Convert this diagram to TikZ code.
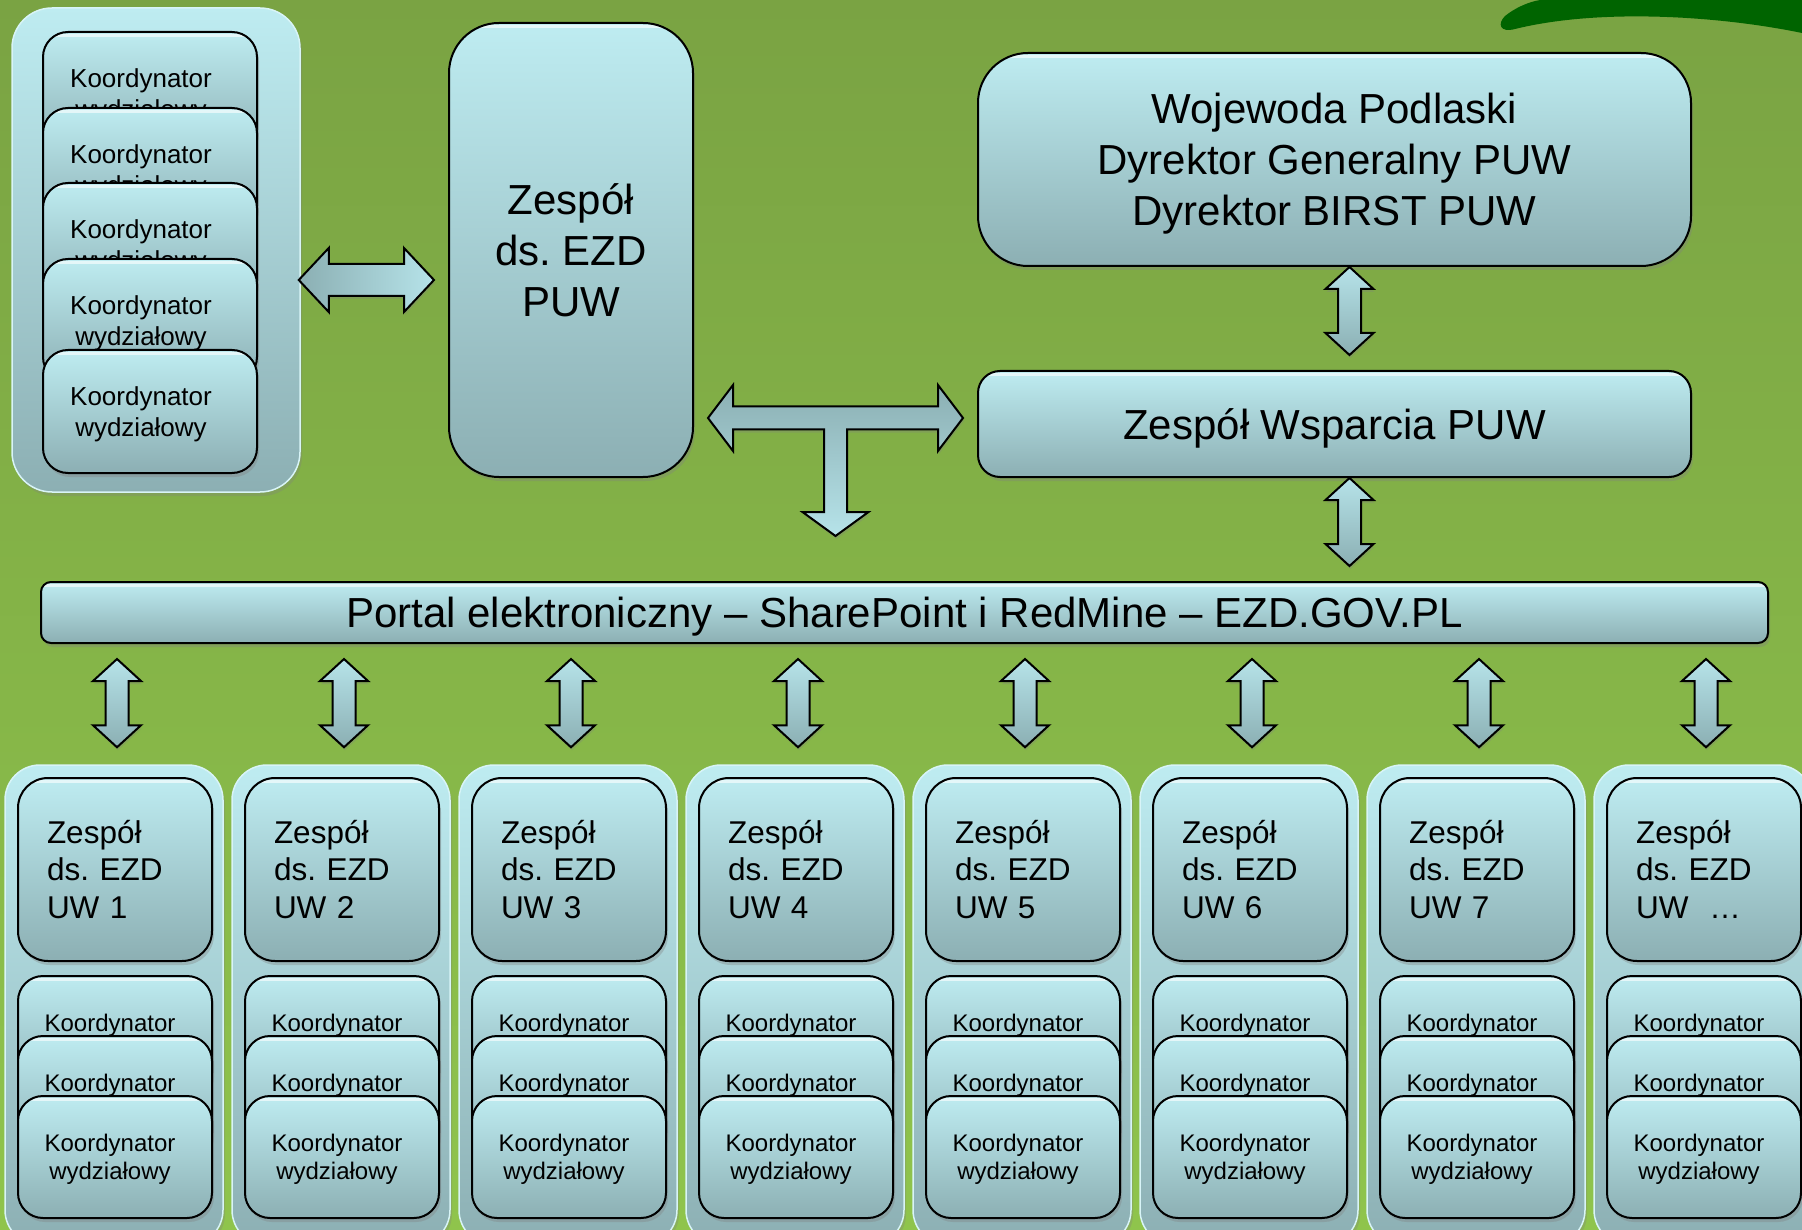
\documentclass[tikz,border=0pt]{standalone}
\usepackage{fontspec}
\setmainfont{Liberation Sans}
\frenchspacing
\usetikzlibrary{calc,shadows}

\definecolor{bgtop}{HTML}{7AA343}
\definecolor{bgbot}{HTML}{8FC44C}
\definecolor{boxtop}{HTML}{BEECF1}
\definecolor{boxbot}{HTML}{8CAFB3}
\definecolor{arrlight}{HTML}{B6E3E9}
\definecolor{arrdark}{HTML}{8BAFB3}
\definecolor{logogreen}{HTML}{006400}

\tikzset{
	gloss/.style={path picture={\draw[white, line width=3pt, opacity=.6]
		([yshift=-3.5pt]path picture bounding box.north west) -- ([yshift=-3.5pt]path picture bounding box.north east);}},
	box/.style={draw=black, line width=2pt, top color=boxtop, bottom color=boxbot, align=center, inner sep=0pt, gloss,
		drop shadow={shadow xshift=2pt, shadow yshift=-4pt, opacity=.35}},
	frame/.style={draw=boxtop!60!white, line width=1.5pt, top color=boxtop, bottom color=boxbot, rounded corners=40pt,
		drop shadow={shadow xshift=2pt, shadow yshift=-4pt, opacity=.3}},
	bigbox/.style={box, rounded corners=50pt, text depth=0pt, font=\fontsize{42}{51}\selectfont},
	kwbox/.style={box, rounded corners=25pt, minimum width=214pt, minimum height=123pt, text depth=0pt, font=\fontsize{26}{31}\selectfont},
	uwbox/.style={box, rounded corners=30pt, minimum width=194pt, minimum height=183pt, text width=136pt, align=left, font=\fontsize{31.5}{37.5}\selectfont},
	kbox/.style={box, rounded corners=25pt, minimum width=194pt, minimum height=122pt, text depth=0pt, font=\fontsize{24}{28.5}\selectfont},
	blockarrow/.style={draw=black, line width=2pt, line join=miter, top color=arrlight, bottom color=arrdark,
		drop shadow={shadow xshift=1pt, shadow yshift=-3pt, opacity=.3}}
}

% two-line label, pushed a little to the left
\newcommand{\kwtext}[1]{Koordynator\hspace*{#1}\\wydziałowy\hspace*{#1}}

% vertical double arrow: top tip, bottom tip
\newcommand{\vArrow}[2]{
	\path[blockarrow] let \p1=#1, \p2=#2 in
		(\x1,\y1) -- (\x1+24pt,\y1-22pt) -- (\x1+11.5pt,\y1-22pt) -- (\x1+11.5pt,\y2+22pt) -- (\x1+24pt,\y2+22pt) -- (\x1,\y2)
		-- (\x1-24pt,\y2+22pt) -- (\x1-11.5pt,\y2+22pt) -- (\x1-11.5pt,\y1-22pt) -- (\x1-24pt,\y1-22pt) -- cycle;}
% horizontal double arrow: left tip, right tip
\newcommand{\hArrow}[2]{
	\path[blockarrow, left color=arrdark, right color=arrlight] let \p1=#1, \p2=#2 in
		(\x1,\y1) -- (\x1+30pt,\y1+32pt) -- (\x1+30pt,\y1+16pt) -- (\x2-30pt,\y1+16pt) -- (\x2-30pt,\y1+32pt) -- (\x2,\y1)
		-- (\x2-30pt,\y1-32pt) -- (\x2-30pt,\y1-16pt) -- (\x1+30pt,\y1-16pt) -- (\x1+30pt,\y1-32pt) -- cycle;}
% T arrow: left tip, right tip, bottom tip
\newcommand{\tArrow}[3]{
	\path[blockarrow, top color=arrdark, bottom color=arrlight] let \p1=#1, \p2=#2, \p3=#3 in
		(\x1,\y1) -- (\x1+25pt,\y1+33pt) -- (\x1+25pt,\y1+11.5pt) -- (\x2-25pt,\y1+11.5pt) -- (\x2-25pt,\y1+33pt) -- (\x2,\y1)
		-- (\x2-25pt,\y1-33pt) -- (\x2-25pt,\y1-11.5pt) -- (\x3+11.5pt,\y1-11.5pt) -- (\x3+11.5pt,\y3+24pt) -- (\x3+33pt,\y3+24pt)
		-- (\x3,\y3) -- (\x3-33pt,\y3+24pt) -- (\x3-11.5pt,\y3+24pt) -- (\x3-11.5pt,\y1-11.5pt) -- (\x1+25pt,\y1-11.5pt)
		-- (\x1+25pt,\y1-33pt) -- cycle;}

\begin{document}
\begin{tikzpicture}[x=1pt, y=-1pt]
	\useasboundingbox (0,0) rectangle (1802,1230);
	\clip (0,0) rectangle (1802,1230);
	\shade[top color=bgtop, bottom color=bgbot] (0,0) rectangle (1802,1230);
	\fill[logogreen] (1540,0) -- (1802,0) -- (1802,33) .. controls (1720,16) and (1600,8) .. (1515,29)
		.. controls (1500,33) and (1497,24) .. (1505,16) .. controls (1515,8) and (1528,2) .. (1540,0) -- cycle;

	\node[frame, minimum width=288pt, minimum height=484pt] (kwframe) at (156,250) {};
	\node[kwbox] (kw1) at (150,93.5) {\kwtext{18pt}};
	\node[kwbox] (kw2) at (150,169.5) {\kwtext{18pt}};
	\node[kwbox] (kw3) at (150,244.5) {\kwtext{18pt}};
	\node[kwbox] (kw4) at (150,320.5) {\kwtext{18pt}};
	\node[kwbox] (kw5) at (150,411.5) {\kwtext{18pt}};

	\node[bigbox, minimum width=244pt, minimum height=454pt] (ezd) at (571,250) {Zespół\\ds. EZD\\PUW};
	\node[bigbox, minimum width=713pt, minimum height=213pt] (woj) at (1334.5,159.5) {Wojewoda Podlaski\\Dyrektor Generalny PUW\\Dyrektor BIRST PUW};
	\node[bigbox, rounded corners=22pt, minimum width=713pt, minimum height=106pt] (wsp) at (1334.5,424) {Zespół Wsparcia PUW};
	\node[bigbox, rounded corners=10pt, minimum width=1727pt, minimum height=61pt] (portal) at (904.5,612.5) {Portal elektroniczny – SharePoint i RedMine – EZD.GOV.PL};

	\hArrow{($(kwframe.east)+(-2,30)$)}{($(ezd.west)+(-14,30)$)}
	\vArrow{($(woj.south)+(15,0)$)}{($(wsp.north)+(15,-15)$)}
	\vArrow{($(wsp.south)+(15,0)$)}{($(portal.north)+(15,-15)$)}
	\tArrow{($(ezd.east)+(14,168)$)}{($(wsp.west)+(-14,-6)$)}{($(ezd.east)!.5!(wsp.west)+(0,199)$)}

	\foreach \i/\lbl [evaluate=\i as \cx using 114+227*(\i-1)] in {1/1,2/2,3/3,4/4,5/5,6/6,7/7,8/{~…}}{
		\node[frame, rounded corners=35pt, minimum width=218pt, minimum height=480pt] (col\i) at (\cx,1005) {};
		\node[uwbox] (uw\i) at (\cx+1,869.5) {Zespół\\ds. EZD\\UW \lbl};
		\node[kbox] (ka\i) at (\cx+1,1037) {\kwtext{10pt}};
		\node[kbox] (kb\i) at (\cx+1,1097) {\kwtext{10pt}};
		\node[kbox] (kc\i) at (\cx+1,1157) {\kwtext{10pt}};
		\vArrow{($(portal.south -| col\i.north)+(3,15)$)}{($(col\i.north)+(3,-17)$)}
	}
\end{tikzpicture}
\end{document}
